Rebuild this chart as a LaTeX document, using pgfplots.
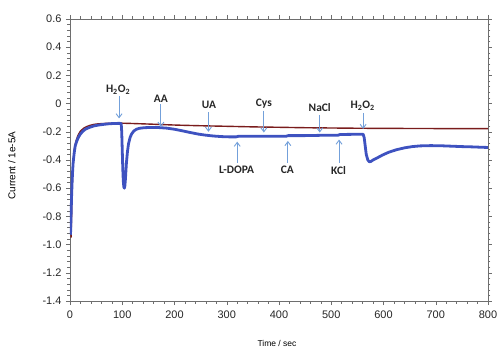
\documentclass[border=0pt]{standalone}
\usepackage{pgfplots}
\pgfplotsset{compat=1.18}
\usepackage{fontspec}
\setmainfont{Liberation Sans}
\newfontfamily\annfont{Carlito}
\usetikzlibrary{arrows.meta}
\definecolor{blueline}{RGB}{62,82,192}
\definecolor{brownline}{RGB}{122,28,28}
\definecolor{arrowblue}{RGB}{115,160,218}
\definecolor{axgray}{RGB}{110,110,110}
\begin{document}
\begin{tikzpicture}[x=1bp,y=1bp]
\begin{axis}[
  scale only axis,
  width=418bp, height=282bp,
  xmin=0, xmax=800, ymin=-1.4, ymax=0.6,
  xtick={0,100,...,800},
  ytick={-1.4,-1.2,-1.0,-0.8,-0.6,-0.4,-0.2,0,0.2,0.4,0.6},
  yticklabels={-1.4,-1.2,-1.0,-0.8,-0.6,-0.4,-0.2,0,0.2,0.4,0.6},
  minor x tick num=4, minor y tick num=4,
  tick align=outside,
  major tick length=4bp, minor tick length=2.5bp,
  axis line style={axgray},
  every tick/.style={axgray},
  /pgf/number format/assume math mode=true,
  tick label style={font=\fontsize{11}{12}\selectfont, text=black!85},
  xticklabel style={yshift=-2bp},
  yticklabel style={xshift=-1bp},
  xlabel={Time / sec},
  ylabel={Current / 1e-5A},
  xlabel style={font=\fontsize{8.5}{10}\selectfont, at={(axis description cs:0.495,-0.149)}, anchor=center},
  ylabel style={font=\fontsize{10}{12}\selectfont, at={(axis description cs:-0.139,0.48)}, anchor=center},
  clip=true,
]
% brown (control) curve
\addplot[brownline, line width=1.4bp, smooth] coordinates {
(2,-0.95) (3,-0.80) (4,-0.62) (5,-0.50) (7,-0.38) (9,-0.31) (12,-0.26) (16,-0.22)
(20,-0.195) (26,-0.175) (34,-0.16) (45,-0.148) (60,-0.142) (80,-0.139) (100,-0.139)
(150,-0.145) (200,-0.152) (250,-0.157) (300,-0.161) (350,-0.165) (400,-0.168)
(450,-0.171) (500,-0.173) (560,-0.175) (620,-0.176) (700,-0.177) (800,-0.178)
};
% blue curve
\addplot[blueline, line width=2.8bp, line join=round] coordinates {
(1,-0.93) (2,-0.80) (3,-0.66) (4,-0.56) (5,-0.48) (6,-0.42) (8,-0.35) (10,-0.30)
(13,-0.265) (16,-0.24) (20,-0.215) (25,-0.195) (30,-0.18) (38,-0.168) (46,-0.158)
(55,-0.152) (65,-0.147) (75,-0.143) (85,-0.141) (95,-0.140) (98,-0.142)
(99,-0.20) (100,-0.33) (101,-0.46) (102,-0.55) (103,-0.59) (104,-0.60) (105,-0.585)
(106,-0.54) (107,-0.48) (108,-0.42) (110,-0.34) (112,-0.285) (115,-0.24) (118,-0.215)
(122,-0.195) (127,-0.182) (133,-0.175) (142,-0.171) (155,-0.169) (170,-0.170)
(185,-0.174) (200,-0.182) (215,-0.193) (230,-0.205) (245,-0.216) (260,-0.224)
(275,-0.230) (290,-0.234) (305,-0.236) (318,-0.236) (322,-0.232) (350,-0.232)
(380,-0.231) (414,-0.231) (418,-0.227) (450,-0.227) (480,-0.225) (513,-0.224)
(517,-0.219) (540,-0.218) (561,-0.217) (563,-0.24) (565,-0.30) (567,-0.36)
(570,-0.40) (573,-0.413) (576,-0.41) (580,-0.40) (588,-0.385) (598,-0.365)
(610,-0.345) (625,-0.327) (640,-0.314) (655,-0.305) (670,-0.300) (690,-0.298)
(710,-0.299) (730,-0.302) (750,-0.305) (770,-0.307) (790,-0.310) (800,-0.311)
};
% annotations (arrows from labels)
\begin{scope}[arrowblue, line width=0.9bp, -{Straight Barb[length=4bp,width=6bp]}]
\draw (axis cs:94,0.055) -- (axis cs:94,-0.105);
\draw (axis cs:174,-0.005) -- (axis cs:174,-0.165);
\draw (axis cs:265,-0.060) -- (axis cs:265,-0.200);
\draw (axis cs:371,-0.050) -- (axis cs:371,-0.205);
\draw (axis cs:478,-0.080) -- (axis cs:478,-0.205);
\draw (axis cs:561,-0.065) -- (axis cs:561,-0.180);
\draw (axis cs:320,-0.420) -- (axis cs:320,-0.270);
\draw (axis cs:417,-0.420) -- (axis cs:417,-0.265);
\draw (axis cs:515,-0.420) -- (axis cs:515,-0.255);
\end{scope}
\begin{scope}[every node/.style={font=\annfont\bfseries\fontsize{11.5}{13}\selectfont, text=black!85, inner sep=0pt}]
\node at (axis cs:92,0.097) {H\textsubscript{2}O\textsubscript{2}};
\node at (axis cs:174,0.033) {AA};
\node at (axis cs:266,-0.010) {UA};
\node at (axis cs:371,-0.002) {Cys};
\node at (axis cs:478,-0.030) {NaCl};
\node at (axis cs:560,-0.016) {H\textsubscript{2}O\textsubscript{2}};
\node at (axis cs:319,-0.472) {L-DOPA};
\node at (axis cs:416,-0.472) {CA};
\node at (axis cs:514,-0.472) {KCl};
\end{scope}
\end{axis}
\pgfresetboundingbox
\path (-70bp,-48bp) rectangle (427bp,301bp);
\end{tikzpicture}
\end{document}
